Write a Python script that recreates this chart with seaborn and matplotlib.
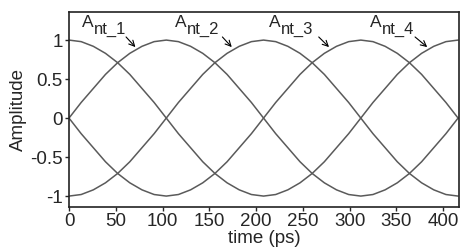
import matplotlib
matplotlib.use("Agg")
import matplotlib.pyplot as plt
import seaborn as sns

tijd = [0, 13, 26, 39, 52, 65, 78, 91, 104, 117, 130, 143, 156, 169, 182,
        195, 208, 221, 234, 247, 260, 273, 286, 299, 312, 325, 338, 351, 364,
        377, 390, 403, 416]

ant_1 = [0, 0.20, 0.38, 0.56, 0.71, 0.83, 0.92, 0.98, 1, 0.98, 0.92, 0.83,
         0.71, 0.56, 0.38, 0.20, 0, -0.20, -0.38, -0.56, -0.71, -0.83, -0.92,
         -0.98, -1, -0.98, -0.92, -0.83, -0.71, -0.56, -0.38, -0.20, 0]
ant_2 = [-1, -0.98, -0.92, -0.83, -0.71, -0.56, -0.38, -0.20, 0, 0.20, 0.38,
         0.56, 0.71, 0.83, 0.92, 0.98, 1, 0.98, 0.92, 0.83, 0.71, 0.56, 0.38,
         0.20, 0, -0.20, -0.38, -0.56, -0.71, -0.83, -0.92, -0.98, -1]
ant_3 = [0, -0.20, -0.38, -0.56, -0.71, -0.83, -0.92, -0.98, -1, -0.98, -0.92,
         -0.83, -0.71, -0.56, -0.38, -0.20, 0, 0.20, 0.38, 0.56, 0.71, 0.83,
         0.92, 0.98, 1, 0.98, 0.92, 0.83, 0.71, 0.56, 0.38, 0.20, 0]
ant_4 = [1, 0.98, 0.92, 0.83, 0.71, 0.56, 0.38, 0.20, 0, -0.20, -0.38, -0.56,
         -0.71, -0.83, -0.92, -0.98, -1, -0.98, -0.92, -0.83, -0.71, -0.56,
         -0.38, -0.20, 0, 0.20, 0.38, 0.56, 0.71, 0.83, 0.92, 0.98, 1]

subs = ["nt_1", "nt_2", "nt_3", "nt_4"]
label_x = [14, 113, 214, 322]
pijl_start = [61, 164, 267, 370]
pijl_punt = [71, 174, 278, 383]

xticks = [0, 50, 100, 150, 200, 250, 300, 350, 400]
yticks = [-1, -0.5, 0, 0.5, 1]
ytick_labels = ["-1", "-0.5", "0", "0.5", "1"]

sns.set_style("ticks")
plt.rcParams["font.family"] = ["Liberation Sans", "DejaVu Sans"]
plt.rcParams["axes.unicode_minus"] = False

fig = plt.figure(figsize=(4.61, 2.5), dpi=100)
ax = fig.add_axes([0.1497, 0.172, 0.846, 0.78])

for serie in [ant_1, ant_2, ant_3, ant_4]:
    sns.lineplot(x=tijd, y=serie, ax=ax, color="#5a5a5a", lw=1.1)

# A met subscript, plus pijltje naar de curve
for sub, lx, p0, p1 in zip(subs, label_x, pijl_start, pijl_punt):
    ax.text(lx, 1.17, "A", fontsize=12.5, va="baseline", ha="left")
    ax.annotate(sub, xy=(lx, 1.17), xytext=(8.6, -5), textcoords="offset points",
                fontsize=12, va="baseline", ha="left")
    ax.annotate("", xy=(p1, 0.91), xytext=(p0, 1.04),
                arrowprops=dict(arrowstyle="->", lw=0.8, color="black",
                                shrinkA=0, shrinkB=0))

ax.set_xlim(0, 417)
ax.set_ylim(-1.14, 1.36)
ax.set_xticks(xticks)
ax.set_yticks(yticks)
ax.set_yticklabels(ytick_labels)
ax.tick_params(labelsize=13.5, length=3, width=1, pad=1.5)
for sp in ax.spines.values():
    sp.set_visible(True)
    sp.set_linewidth(1.2)
    sp.set_color("#222222")

ax.set_xlabel("time (ps)", fontsize=13.5, labelpad=0)
ax.set_ylabel("Amplitude", fontsize=13.5, labelpad=2)

fig.savefig("out.png", dpi=100)
